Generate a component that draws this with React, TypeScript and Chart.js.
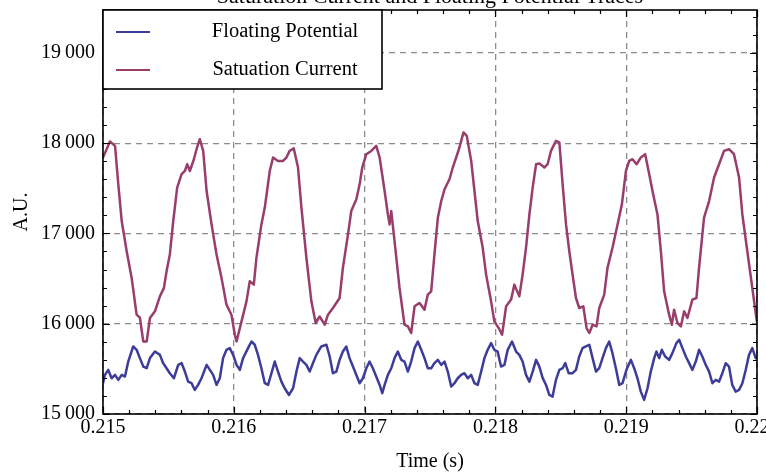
import React, { useEffect, useRef } from "react";
import { Chart, registerables } from "chart.js";

Chart.register(...registerables);

const SERIF = '"Liberation Serif", "Times New Roman", serif';
const BLUE = "#3d3d99";
const MAGENTA = "#993d6b";

const chartTitle = "Saturation Current and Floating Potential Traces";
const xAxisTitle = "Time (s)";
const yAxisTitle = "A.U.";
const seriesLabels = ["Floating Potential", "Satuation Current"];

const xTickValues = [0.215, 0.216, 0.217, 0.218, 0.219, 0.22];
const yTickValues = [15000, 16000, 17000, 18000, 19000];
const xRange = [0.215, 0.22];
const yRange = [15000, 19475];

const floatTime = [
  0.215, 0.215015, 0.21504, 0.215066, 0.215092, 0.215117, 0.215143, 0.215168, 0.215193, 0.215231,
  0.215257, 0.215282, 0.215308, 0.215334, 0.215359, 0.215397, 0.215435, 0.21546, 0.215486, 0.215511,
  0.215542, 0.215575, 0.215601, 0.215626, 0.215651, 0.215677, 0.215702, 0.215727, 0.215753, 0.215792,
  0.215817, 0.215842, 0.215868, 0.215893, 0.215918, 0.215944, 0.215969, 0.215995, 0.216021, 0.216046,
  0.216071, 0.216109, 0.216135, 0.21616, 0.216185, 0.216211, 0.216237, 0.216262, 0.216288, 0.216313,
  0.216338, 0.216364, 0.216389, 0.216422, 0.216453, 0.216479, 0.216504, 0.216529, 0.216555, 0.21658,
  0.216605, 0.216631, 0.216669, 0.216708, 0.216733, 0.216758, 0.216784, 0.216809, 0.216834, 0.21686,
  0.216885, 0.216911, 0.216937, 0.216962, 0.216987, 0.217013, 0.217038, 0.217063, 0.217089, 0.217115,
  0.217135, 0.217153, 0.217178, 0.217204, 0.217229, 0.217254, 0.21728, 0.217305, 0.217331, 0.217356,
  0.217382, 0.217407, 0.217433, 0.217458, 0.217483, 0.217509, 0.217534, 0.21756, 0.217586, 0.217611,
  0.217636, 0.217662, 0.217687, 0.217712, 0.217738, 0.217763, 0.217789, 0.217815, 0.21784, 0.217865,
  0.217891, 0.217916, 0.217941, 0.217967, 0.217992, 0.218017, 0.218043, 0.218069, 0.218094, 0.218127,
  0.218158, 0.218183, 0.218208, 0.218234, 0.21826, 0.218285, 0.218311, 0.218336, 0.218361, 0.218387,
  0.218412, 0.218437, 0.218463, 0.218489, 0.218514, 0.218534, 0.21856, 0.21859, 0.218616, 0.218641,
  0.218666, 0.218692, 0.218718, 0.218743, 0.218769, 0.218794, 0.218819, 0.218845, 0.21887, 0.218895,
  0.218921, 0.218947, 0.218972, 0.219002, 0.219036, 0.219061, 0.219086, 0.219112, 0.219137, 0.219163,
  0.219188, 0.219214, 0.219231, 0.219252, 0.219272, 0.219298, 0.219328, 0.219353, 0.219384, 0.219405,
  0.21943, 0.219456, 0.219481, 0.219506, 0.219532, 0.219557, 0.219582, 0.219608, 0.219634, 0.219659,
  0.219685, 0.21971, 0.219735, 0.219761, 0.219786, 0.219811, 0.219837, 0.219863, 0.219888, 0.219914,
  0.219939, 0.219964, 0.21999, 0.22,
];
const floatValue = [
  15341, 15433, 15489, 15396, 15433, 15378, 15433, 15415, 15581, 15748,
  15711, 15619, 15526, 15507, 15619, 15692, 15655, 15563, 15507, 15452,
  15396, 15544, 15563, 15470, 15359, 15341, 15267, 15322, 15396, 15544,
  15489, 15433, 15322, 15396, 15619, 15711, 15730, 15655, 15544, 15489,
  15619, 15730, 15803, 15767, 15655, 15507, 15341, 15322, 15452, 15581,
  15470, 15359, 15285, 15211, 15285, 15470, 15619, 15581, 15544, 15470,
  15563, 15655, 15748, 15767, 15637, 15452, 15470, 15600, 15692, 15748,
  15619, 15526, 15433, 15341, 15396, 15507, 15581, 15507, 15415, 15322,
  15230, 15322, 15433, 15507, 15619, 15692, 15600, 15581, 15470, 15581,
  15730, 15803, 15711, 15619, 15507, 15507, 15563, 15600, 15544, 15581,
  15470, 15304, 15341, 15396, 15433, 15452, 15396, 15433, 15341, 15322,
  15470, 15619, 15711, 15785, 15711, 15692, 15526, 15544, 15711, 15803,
  15692, 15655, 15581, 15433, 15359, 15470, 15600, 15525, 15400, 15322,
  15211, 15193, 15378, 15489, 15507, 15563, 15452, 15452, 15489, 15637,
  15730, 15748, 15767, 15619, 15470, 15507, 15619, 15730, 15803, 15674,
  15507, 15322, 15341, 15489, 15600, 15507, 15396, 15248, 15156, 15285,
  15470, 15619, 15692, 15619, 15711, 15637, 15600, 15674, 15785, 15822,
  15730, 15637, 15563, 15489, 15581, 15711, 15637, 15544, 15470, 15341,
  15378, 15359, 15452, 15563, 15526, 15322, 15248, 15267, 15341, 15489,
  15655, 15730, 15619, 15640,
];

const satTime = [
  0.215, 0.215053, 0.215092, 0.215117, 0.215143, 0.215181, 0.215219, 0.215257, 0.215282, 0.215308,
  0.215334, 0.215359, 0.215397, 0.215435, 0.215466, 0.215486, 0.215511, 0.215537, 0.215567, 0.215601,
  0.215626, 0.215644, 0.215664, 0.215695, 0.215715, 0.21574, 0.215766, 0.215792, 0.21583, 0.215868,
  0.215906, 0.215944, 0.215982, 0.216008, 0.216021, 0.216059, 0.216097, 0.216122, 0.216153, 0.216173,
  0.216211, 0.216237, 0.216275, 0.2163, 0.216338, 0.216376, 0.216402, 0.216427, 0.216458, 0.216491,
  0.216517, 0.216555, 0.216593, 0.216626, 0.216656, 0.216695, 0.21672, 0.216758, 0.216809, 0.216834,
  0.216873, 0.216898, 0.216937, 0.216962, 0.216982, 0.217013, 0.217051, 0.217089, 0.217115, 0.217153,
  0.217178, 0.217191, 0.217204, 0.217229, 0.217267, 0.217305, 0.217331, 0.217356, 0.217382, 0.21742,
  0.217458, 0.217483, 0.217509, 0.217534, 0.21756, 0.217586, 0.217611, 0.217649, 0.217674, 0.2177,
  0.217725, 0.217756, 0.217781, 0.217815, 0.21784, 0.217865, 0.217903, 0.217929, 0.217967, 0.217992,
  0.218025, 0.218051, 0.218082, 0.21812, 0.218145, 0.218183, 0.218208, 0.218234, 0.21826, 0.218285,
  0.218311, 0.218336, 0.218361, 0.218374, 0.218399, 0.218425, 0.218463, 0.218489, 0.218514, 0.21854,
  0.218565, 0.21859, 0.218616, 0.218641, 0.218672, 0.218697, 0.218718, 0.218743, 0.218773, 0.218794,
  0.218832, 0.218857, 0.218895, 0.218934, 0.218967, 0.218998, 0.219023, 0.219048, 0.219079, 0.219112,
  0.219145, 0.219176, 0.219201, 0.219239, 0.219265, 0.21929, 0.219328, 0.219349, 0.219366, 0.219392,
  0.219418, 0.219443, 0.219468, 0.219506, 0.219537, 0.219557, 0.219595, 0.219634, 0.219672, 0.21971,
  0.219748, 0.219786, 0.219824, 0.219863, 0.219888, 0.219926, 0.219964, 0.219995, 0.22,
];
const satValue = [
  17840, 18019, 17970, 17544, 17137, 16803, 16507, 16100, 16067, 15803,
  15803, 16063, 16137, 16303, 16397, 16581, 16767, 17137, 17508, 17656,
  17692, 17767, 17692, 17822, 17933, 18044, 17914, 17470, 17100, 16767,
  16508, 16211, 16100, 15878, 15803, 16026, 16248, 16470, 16433, 16730,
  17100, 17286, 17692, 17841, 17803, 17803, 17841, 17914, 17944, 17730,
  17286, 16730, 16248, 16008, 16080, 15989, 16100, 16174, 16285, 16619,
  16989, 17248, 17378, 17544, 17730, 17878, 17914, 17970, 17841, 17470,
  17211, 17100, 17248, 16915, 16397, 15989, 15970, 15897, 16193, 16230,
  16156, 16322, 16359, 16767, 17174, 17359, 17489, 17600, 17730, 17841,
  17952, 18119, 18081, 17803, 17470, 17137, 16841, 16544, 16248, 16026,
  15952, 15878, 16193, 16267, 16433, 16303, 16544, 16841, 17211, 17508,
  17767, 17775, 17748, 17730, 17767, 17914, 18026, 18008, 17544, 17100,
  16803, 16544, 16285, 16174, 16193, 15952, 15897, 15989, 15970, 16174,
  16322, 16619, 16841, 17100, 17322, 17692, 17803, 17822, 17767, 17841,
  17878, 17656, 17470, 17211, 16803, 16359, 16100, 15989, 16156, 16008,
  15970, 16137, 16063, 16267, 16285, 16619, 17174, 17359, 17619, 17767,
  17914, 17933, 17878, 17619, 17211, 16803, 16397, 16063, 16020,
];

const fmtY = (v: number) =>
  Math.round(v).toString().replace(/\B(?=(\d{3})+(?!\d))/g, "\u2009");

const frameTitleLegendPlugin = {
  id: "frameTitleLegend",
  afterDatasetsDraw(chart: any) {
    const { ctx, chartArea: a, scales } = chart;
    const xs = scales.x;
    const ys = scales.y;
    ctx.save();
    ctx.strokeStyle = "#000";
    ctx.lineWidth = 1.2;
    ctx.beginPath();
    const xStep = (xTickValues[1] - xTickValues[0]) / 5;
    for (let i = 0; i <= 25; i++) {
      const v = xRange[0] + i * xStep;
      const px = Math.round(xs.getPixelForValue(v)) + 0.5;
      const len = i % 5 === 0 ? 7 : 4;
      ctx.moveTo(px, a.bottom);
      ctx.lineTo(px, a.bottom - len);
      ctx.moveTo(px, a.top);
      ctx.lineTo(px, a.top + len);
    }
    const yStep = (yTickValues[1] - yTickValues[0]) / 5;
    for (let i = 0; yRange[0] + i * yStep <= yRange[1]; i++) {
      const v = yRange[0] + i * yStep;
      const py = Math.round(ys.getPixelForValue(v)) + 0.5;
      const len = i % 5 === 0 ? 7 : 4;
      ctx.moveTo(a.left, py);
      ctx.lineTo(a.left + len, py);
      ctx.moveTo(a.right, py);
      ctx.lineTo(a.right - len, py);
    }
    ctx.stroke();
    ctx.lineWidth = 1.6;
    ctx.strokeRect(a.left, a.top, a.right - a.left, a.bottom - a.top);
    ctx.restore();
  },
  afterDraw(chart: any) {
    const { ctx, chartArea: a } = chart;
    ctx.save();
    ctx.fillStyle = "#000";
    ctx.font = `22px ${SERIF}`;
    ctx.textAlign = "center";
    ctx.textBaseline = "alphabetic";
    ctx.fillText(chartTitle, (a.left + a.right) / 2, 3);

    const bx = a.left;
    const by = a.top;
    const bw = 279;
    const bh = 79;
    ctx.fillStyle = "#fff";
    ctx.fillRect(bx, by, bw, bh);
    ctx.strokeStyle = "#000";
    ctx.lineWidth = 1.6;
    ctx.strokeRect(bx, by, bw, bh);
    const rows = [22, 60];
    chart.data.datasets.forEach((ds: any, i: number) => {
      const ry = by + rows[i];
      ctx.strokeStyle = ds.borderColor;
      ctx.lineWidth = 2.2;
      ctx.beginPath();
      ctx.moveTo(bx + 13, ry);
      ctx.lineTo(bx + 47, ry);
      ctx.stroke();
      ctx.fillStyle = "#000";
      ctx.font = `20.5px ${SERIF}`;
      ctx.textAlign = "center";
      ctx.textBaseline = "middle";
      ctx.fillText(ds.label, bx + 182, ry);
    });
    ctx.restore();
  },
};

export default function App() {
  const canvasRef = useRef<HTMLCanvasElement | null>(null);

  useEffect(() => {
    const canvas = canvasRef.current;
    if (!canvas) return;
    const chart = new Chart(canvas, {
      type: "line",
      data: {
        datasets: [
          {
            label: seriesLabels[0],
            data: floatTime.map((t, i) => ({ x: t, y: floatValue[i] })),
            borderColor: BLUE,
            backgroundColor: BLUE,
            borderWidth: 2.5,
            borderJoinStyle: "round",
            pointRadius: 0,
            tension: 0,
          },
          {
            label: seriesLabels[1],
            data: satTime.map((t, i) => ({ x: t, y: satValue[i] })),
            borderColor: MAGENTA,
            backgroundColor: MAGENTA,
            borderWidth: 2.5,
            borderJoinStyle: "round",
            pointRadius: 0,
            tension: 0,
          },
        ],
      },
      options: {
        animation: false,
        responsive: false,
        devicePixelRatio: 1,
        layout: { padding: { top: 10, right: 9, bottom: 0, left: 0 } },
        plugins: {
          legend: { display: false },
          title: { display: false },
          tooltip: { enabled: false },
        },
        scales: {
          x: {
            type: "linear",
            min: xRange[0],
            max: xRange[1],
            afterBuildTicks: (s: any) => {
              s.ticks = xTickValues.map((v) => ({ value: v }));
            },
            afterFit: (s: any) => {
              s.height = 59;
              s.paddingLeft = 0;
              s.paddingRight = 0;
            },
            grid: { color: "#8c8c8c", lineWidth: 1.3, drawTicks: false },
            border: { display: false, dash: [6, 5] },
            ticks: {
              color: "#000",
              font: { family: SERIF, size: 20 },
              padding: 2,
              maxRotation: 0,
              autoSkip: false,
              callback: (v: any) => Number(v).toFixed(3),
            },
            title: {
              display: true,
              text: xAxisTitle,
              color: "#000",
              font: { family: SERIF, size: 20 },
              padding: { top: 0, bottom: -1 },
            },
          },
          y: {
            type: "linear",
            min: yRange[0],
            max: yRange[1],
            afterBuildTicks: (s: any) => {
              s.ticks = yTickValues.map((v) => ({ value: v }));
            },
            afterFit: (s: any) => {
              s.width = 103;
              s.paddingTop = 0;
              s.paddingBottom = 0;
            },
            grid: { color: "#8c8c8c", lineWidth: 1.3, drawTicks: false },
            border: { display: false, dash: [6, 5] },
            ticks: {
              color: "#000",
              font: { family: SERIF, size: 20 },
              padding: 8,
              autoSkip: false,
              callback: (v: any) => fmtY(Number(v)),
            },
            title: {
              display: true,
              text: yAxisTitle,
              color: "#000",
              font: { family: SERIF, size: 20 },
              padding: { top: 10, bottom: 0 },
            },
          },
        },
      },
      plugins: [frameTitleLegendPlugin],
    } as any);
    return () => chart.destroy();
  }, []);

  return (
    <div
      style={{
        position: "fixed",
        left: 0,
        top: 0,
        width: 766,
        height: 473,
        overflow: "hidden",
        background: "#fff",
      }}
    >
      <canvas ref={canvasRef} width={766} height={473} style={{ display: "block" }} />
    </div>
  );
}
